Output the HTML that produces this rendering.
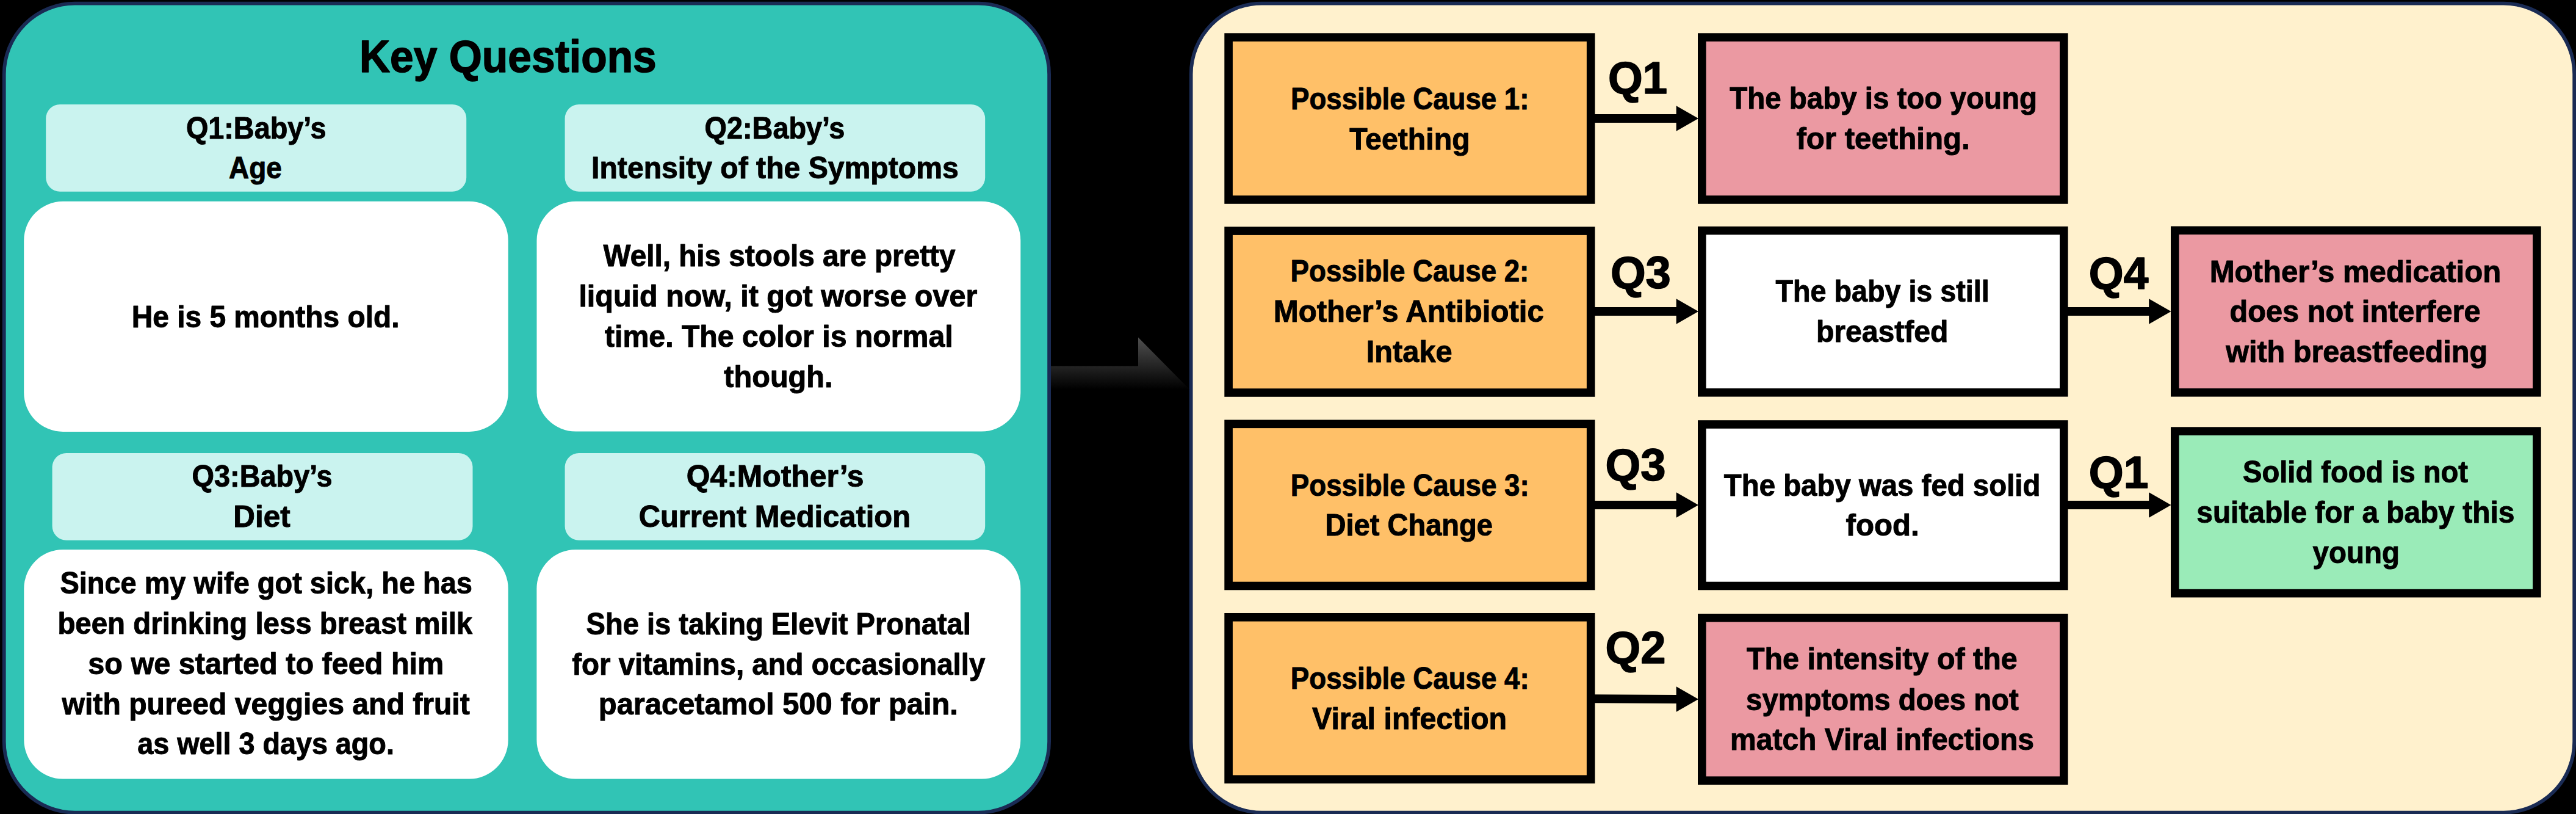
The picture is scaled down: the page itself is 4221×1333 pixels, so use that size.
<!DOCTYPE html>
<html><head><meta charset="utf-8"><style>
html,body{margin:0;padding:0;background:#000;}
svg{display:block;}
text{font-family:"Liberation Sans",sans-serif;font-weight:bold;fill:#000;stroke:#000;stroke-linejoin:round;}
</style></head><body>
<svg width="4221" height="1333" viewBox="0 0 4221 1333">
<rect x="0" y="0" width="4221" height="1333" fill="#000"/>
<rect x="6.7" y="5.6" width="1712.4" height="1325" rx="116" ry="116" fill="#31c4b5" stroke="#1a2b54" stroke-width="5.8"/>
<rect x="1951.6" y="5.6" width="2266.6" height="1325" rx="116" ry="116" fill="#fff1cd" stroke="#1a2b54" stroke-width="5.8"/>
<rect x="75.2" y="171" width="689.0" height="142.8" rx="23" ry="23" fill="#caf3ef"/>
<rect x="925.6" y="171" width="688.6" height="142.8" rx="23" ry="23" fill="#caf3ef"/>
<rect x="85.6" y="742" width="688.9" height="142.8" rx="23" ry="23" fill="#caf3ef"/>
<rect x="925.6" y="742" width="688.6" height="142.8" rx="23" ry="23" fill="#caf3ef"/>
<rect x="39.2" y="329.8" width="793.5" height="377.1" rx="64" ry="64" fill="#ffffff"/>
<rect x="879.5" y="329.7" width="792.8" height="376.8" rx="64" ry="64" fill="#ffffff"/>
<rect x="39.3" y="900" width="793.4" height="375.5" rx="64" ry="64" fill="#ffffff"/>
<rect x="879.4" y="900" width="792.9" height="375.5" rx="64" ry="64" fill="#ffffff"/>
<defs><linearGradient id="ag" x1="0" y1="552.6" x2="0" y2="722.6" gradientUnits="userSpaceOnUse"><stop offset="0" stop-color="#4f4f4f"/><stop offset="0.5" stop-color="#000"/><stop offset="1" stop-color="#000"/></linearGradient></defs>
<path d="M1722 599.5 L1865 599.5 L1865 552.6 L1949 637.6 L1865 722.6 L1865 675.7 L1722 675.7 Z" fill="url(#ag)"/>
<rect x="2013.10" y="61.10" width="593.60" height="265.90" fill="#ffc068" stroke="#000" stroke-width="13.6"/>
<rect x="2013.10" y="378.10" width="593.60" height="264.90" fill="#ffc068" stroke="#000" stroke-width="13.6"/>
<rect x="2013.10" y="694.30" width="593.60" height="265.20" fill="#ffc068" stroke="#000" stroke-width="13.6"/>
<rect x="2013.10" y="1010.80" width="593.60" height="265.40" fill="#ffc068" stroke="#000" stroke-width="13.6"/>
<rect x="2788.80" y="61.10" width="593.00" height="265.90" fill="#eb99a2" stroke="#000" stroke-width="13.6"/>
<rect x="2788.80" y="377.60" width="593.00" height="265.20" fill="#ffffff" stroke="#000" stroke-width="13.6"/>
<rect x="2788.80" y="695.00" width="593.00" height="264.50" fill="#ffffff" stroke="#000" stroke-width="13.6"/>
<rect x="2788.80" y="1011.80" width="593.00" height="266.40" fill="#eb99a2" stroke="#000" stroke-width="13.6"/>
<rect x="3563.80" y="377.30" width="593.10" height="265.50" fill="#eb99a2" stroke="#000" stroke-width="13.6"/>
<rect x="3563.80" y="706.10" width="593.10" height="265.50" fill="#9aebb8" stroke="#000" stroke-width="13.6"/>
<path d="M2613 187 L2746.7 187 L2746.7 173.25 L2783 194 L2746.7 214.75 L2746.7 201 L2613 201 Z" fill="#000"/>
<path d="M2613 503 L2746.7 503 L2746.7 489.25 L2783 510 L2746.7 530.75 L2746.7 517 L2613 517 Z" fill="#000"/>
<path d="M2613 820.1 L2746.7 820.1 L2746.7 806.35 L2783 827.1 L2746.7 847.85 L2746.7 834.1 L2613 834.1 Z" fill="#000"/>
<path d="M2613 1137.2 L2746.7 1138 L2746.7 1124.25 L2783 1145 L2746.7 1165.75 L2746.7 1152 L2613 1151.2 Z" fill="#000"/>
<path d="M3388 503 L3521.2 503 L3521.2 489.25 L3557.5 510 L3521.2 530.75 L3521.2 517 L3388 517 Z" fill="#000"/>
<path d="M3388 819.9 L3521.2 819.9 L3521.2 806.15 L3557.5 826.9 L3521.2 847.65 L3521.2 833.9 L3388 833.9 Z" fill="#000"/>
<text x="588.9" y="118.4" font-size="75" stroke-width="1.6" textLength="486.9" lengthAdjust="spacingAndGlyphs">Key Questions</text>
<text x="304.9" y="226.6" font-size="50" stroke-width="1.0" textLength="229.6" lengthAdjust="spacingAndGlyphs">Q1:Baby’s</text>
<text x="375.1" y="292.1" font-size="50" stroke-width="1.0" textLength="86.7" lengthAdjust="spacingAndGlyphs">Age</text>
<text x="1154.6" y="226.5" font-size="50" stroke-width="1.0" textLength="229.8" lengthAdjust="spacingAndGlyphs">Q2:Baby’s</text>
<text x="969.1" y="292.4" font-size="50" stroke-width="1.0" textLength="601.6" lengthAdjust="spacingAndGlyphs">Intensity of the Symptoms</text>
<text x="314.6" y="797.2" font-size="50" stroke-width="1.0" textLength="230.0" lengthAdjust="spacingAndGlyphs">Q3:Baby’s</text>
<text x="382.3" y="863.1" font-size="50" stroke-width="1.0" textLength="93.3" lengthAdjust="spacingAndGlyphs">Diet</text>
<text x="1124.8" y="796.9" font-size="50" stroke-width="1.0" textLength="290.6" lengthAdjust="spacingAndGlyphs">Q4:Mother’s</text>
<text x="1046.7" y="862.9" font-size="50" stroke-width="1.0" textLength="445.4" lengthAdjust="spacingAndGlyphs">Current Medication</text>
<text x="215.7" y="536.3" font-size="50" stroke-width="1.0" textLength="438.8" lengthAdjust="spacingAndGlyphs">He is 5 months old.</text>
<text x="988.5" y="436.3" font-size="50" stroke-width="1.0" textLength="577.0" lengthAdjust="spacingAndGlyphs">Well, his stools are pretty</text>
<text x="948.4" y="501.6" font-size="50" stroke-width="1.0" textLength="652.9" lengthAdjust="spacingAndGlyphs">liquid now, it got worse over</text>
<text x="991.0" y="567.7" font-size="50" stroke-width="1.0" textLength="570.6" lengthAdjust="spacingAndGlyphs">time. The color is normal</text>
<text x="1186.3" y="634.1" font-size="50" stroke-width="1.0" textLength="178.2" lengthAdjust="spacingAndGlyphs">though.</text>
<text x="98.4" y="971.8" font-size="50" stroke-width="1.0" textLength="675.5" lengthAdjust="spacingAndGlyphs">Since my wife got sick, he has</text>
<text x="94.4" y="1037.6" font-size="50" stroke-width="1.0" textLength="679.8" lengthAdjust="spacingAndGlyphs">been drinking less breast milk</text>
<text x="144.3" y="1103.8" font-size="50" stroke-width="1.0" textLength="583.0" lengthAdjust="spacingAndGlyphs">so we started to feed him</text>
<text x="101.6" y="1169.5" font-size="50" stroke-width="1.0" textLength="668.1" lengthAdjust="spacingAndGlyphs">with pureed veggies and fruit</text>
<text x="225.3" y="1234.9" font-size="50" stroke-width="1.0" textLength="420.6" lengthAdjust="spacingAndGlyphs">as well 3 days ago.</text>
<text x="960.5" y="1039.0" font-size="50" stroke-width="1.0" textLength="630.3" lengthAdjust="spacingAndGlyphs">She is taking Elevit Pronatal</text>
<text x="937.3" y="1104.5" font-size="50" stroke-width="1.0" textLength="677.0" lengthAdjust="spacingAndGlyphs">for vitamins, and occasionally</text>
<text x="980.8" y="1170.4" font-size="50" stroke-width="1.0" textLength="589.1" lengthAdjust="spacingAndGlyphs">paracetamol 500 for pain.</text>
<text x="2115.1" y="178.5" font-size="50" stroke-width="1.0" textLength="390.3" lengthAdjust="spacingAndGlyphs">Possible Cause 1:</text>
<text x="2211.2" y="244.5" font-size="50" stroke-width="1.0" textLength="197.5" lengthAdjust="spacingAndGlyphs">Teething</text>
<text x="2114.6" y="461.1" font-size="50" stroke-width="1.0" textLength="390.7" lengthAdjust="spacingAndGlyphs">Possible Cause 2:</text>
<text x="2086.8" y="527.1" font-size="50" stroke-width="1.0" textLength="443.0" lengthAdjust="spacingAndGlyphs">Mother’s Antibiotic</text>
<text x="2238.7" y="593.0" font-size="50" stroke-width="1.0" textLength="141.0" lengthAdjust="spacingAndGlyphs">Intake</text>
<text x="2114.8" y="811.6" font-size="50" stroke-width="1.0" textLength="390.9" lengthAdjust="spacingAndGlyphs">Possible Cause 3:</text>
<text x="2171.5" y="877.4" font-size="50" stroke-width="1.0" textLength="274.5" lengthAdjust="spacingAndGlyphs">Diet Change</text>
<text x="2114.8" y="1128.1" font-size="50" stroke-width="1.0" textLength="390.9" lengthAdjust="spacingAndGlyphs">Possible Cause 4:</text>
<text x="2150.0" y="1193.8" font-size="50" stroke-width="1.0" textLength="319.1" lengthAdjust="spacingAndGlyphs">Viral infection</text>
<text x="2834.3" y="178.1" font-size="50" stroke-width="1.0" textLength="503.6" lengthAdjust="spacingAndGlyphs">The baby is too young</text>
<text x="2943.4" y="244.1" font-size="50" stroke-width="1.0" textLength="284.4" lengthAdjust="spacingAndGlyphs">for teething.</text>
<text x="2909.5" y="493.7" font-size="50" stroke-width="1.0" textLength="350.2" lengthAdjust="spacingAndGlyphs">The baby is still</text>
<text x="2975.9" y="560.1" font-size="50" stroke-width="1.0" textLength="216.4" lengthAdjust="spacingAndGlyphs">breastfed</text>
<text x="2824.8" y="811.5" font-size="50" stroke-width="1.0" textLength="518.6" lengthAdjust="spacingAndGlyphs">The baby was fed solid</text>
<text x="3024.6" y="877.2" font-size="50" stroke-width="1.0" textLength="120.1" lengthAdjust="spacingAndGlyphs">food.</text>
<text x="2861.9" y="1096.2" font-size="50" stroke-width="1.0" textLength="443.8" lengthAdjust="spacingAndGlyphs">The intensity of the</text>
<text x="2861.1" y="1162.5" font-size="50" stroke-width="1.0" textLength="446.6" lengthAdjust="spacingAndGlyphs">symptoms does not</text>
<text x="2835.1" y="1228.4" font-size="50" stroke-width="1.0" textLength="497.8" lengthAdjust="spacingAndGlyphs">match Viral infections</text>
<text x="3620.7" y="461.5" font-size="50" stroke-width="1.0" textLength="477.5" lengthAdjust="spacingAndGlyphs">Mother’s medication</text>
<text x="3653.6" y="527.4" font-size="50" stroke-width="1.0" textLength="411.0" lengthAdjust="spacingAndGlyphs">does not interfere</text>
<text x="3647.2" y="593.3" font-size="50" stroke-width="1.0" textLength="428.9" lengthAdjust="spacingAndGlyphs">with breastfeeding</text>
<text x="3675.1" y="790.3" font-size="50" stroke-width="1.0" textLength="368.9" lengthAdjust="spacingAndGlyphs">Solid food is not</text>
<text x="3599.3" y="856.0" font-size="50" stroke-width="1.0" textLength="521.0" lengthAdjust="spacingAndGlyphs">suitable for a baby this</text>
<text x="3789.5" y="921.9" font-size="50" stroke-width="1.0" textLength="142.4" lengthAdjust="spacingAndGlyphs">young</text>
<text x="2634.9" y="152.9" font-size="75" stroke-width="1.6" textLength="97.3" lengthAdjust="spacingAndGlyphs">Q1</text>
<text x="2638.9" y="471.7" font-size="75" stroke-width="1.6" textLength="99.0" lengthAdjust="spacingAndGlyphs">Q3</text>
<text x="2630.5" y="786.7" font-size="75" stroke-width="1.6" textLength="99.0" lengthAdjust="spacingAndGlyphs">Q3</text>
<text x="2630.5" y="1086.0" font-size="75" stroke-width="1.6" textLength="99.0" lengthAdjust="spacingAndGlyphs">Q2</text>
<text x="3422.8" y="472.9" font-size="75" stroke-width="1.6" textLength="97.5" lengthAdjust="spacingAndGlyphs">Q4</text>
<text x="3422.8" y="798.9" font-size="75" stroke-width="1.6" textLength="97.6" lengthAdjust="spacingAndGlyphs">Q1</text>
</svg>
</body></html>
